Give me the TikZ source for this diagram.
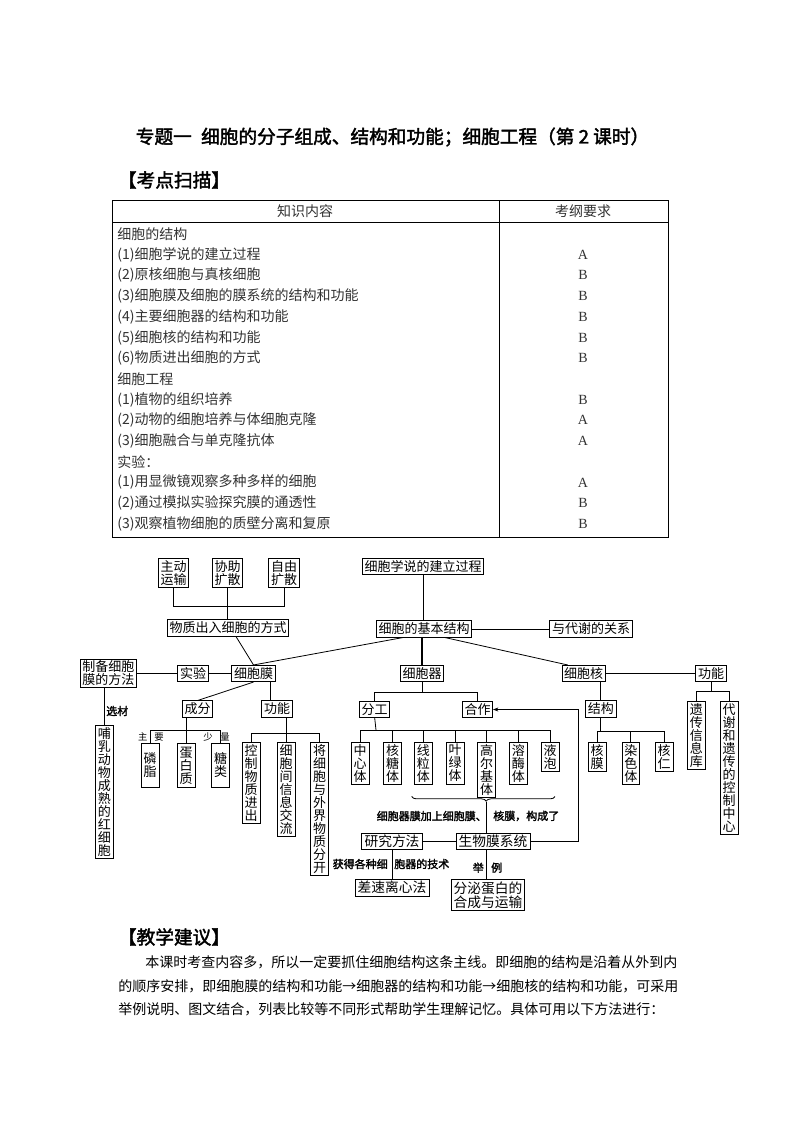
\documentclass[tikz,border=0pt]{standalone}
\usepackage{fontspec}
\setmainfont{Noto Sans CJK SC}[AutoFakeBold=2]
\newfontfamily\serif{Liberation Serif}
\usetikzlibrary{calc,decorations.pathreplacing,arrows.meta}

\tikzset{
  ln/.style={line width=.6pt},
  hb/.style={draw,line width=.6pt,inner xsep=1.6pt,inner ysep=1.1pt,text height=.85em,text depth=.15em,
    font=\fontsize{9.75}{9.75}\selectfont},
  hbl/.style={hb,inner xsep=2pt,font=\fontsize{10.3}{10.3}\selectfont},
  hbb/.style={draw,line width=.6pt,inner xsep=1.6pt,inner ysep=1.4pt,align=center,
    font=\fontsize{9.75}{9.75}\selectfont},
  vb/.style={draw,line width=.6pt,anchor=north,inner xsep=1.8pt,inner ysep=1.6pt,text width=9.75pt,
    align=center,font=\fontsize{9.75}{9.75}\selectfont},
  lb/.style={inner sep=0pt,font=\fontsize{8.25}{8.25}\bfseries\selectfont},
  sm/.style={inner sep=0pt,font=\fontsize{7}{7}\selectfont},
  tb/.style={inner sep=0pt,text=black!80,font=\fontsize{10.5}{10.5}\selectfont},
  hd/.style={inner sep=0pt,font=\fontsize{14}{14}\bfseries\selectfont},
  pr/.style={inner sep=0pt,anchor=west,font=\fontsize{10.5}{10.5}\selectfont},
}

\begin{document}
\begin{tikzpicture}[x=0.75pt,y=-0.75pt]
\fill[white] (0,0) rectangle (793,1122);
\useasboundingbox (0,0) rectangle (793,1122);

% title and table
\node[hd] (title) at (392.5,137) {专题一\hspace{.5em}细胞的分子组成、结构和功能；细胞工程（第 2 课时）};
\node[hd] (kdsm) at (174,180) {【考点扫描】};
\draw[ln] (112,200) rectangle (668,537);
\draw[ln] (499,200) -- (499,537) (112,222) -- (668,222);
\node[tb] at (305,211) {知识内容};
\node[tb] at (583,211) {考纲要求};
\foreach \t/\g [count=\i from 0] in {{细胞的结构}/{},{(1)细胞学说的建立过程}/A,{(2)原核细胞与真核细胞}/B,
  {(3)细胞膜及细胞的膜系统的结构和功能}/B,{(4)主要细胞器的结构和功能}/B,{(5)细胞核的结构和功能}/B,
  {(6)物质进出细胞的方式}/B,{细胞工程}/{},{(1)植物的组织培养}/B,{(2)动物的细胞培养与体细胞克隆}/A,
  {(3)细胞融合与单克隆抗体}/A,{实验：}/{},{(1)用显微镜观察多种多样的细胞}/A,
  {(2)通过模拟实验探究膜的通透性}/B,{(3)观察植物细胞的质壁分离和复原}/B}
{
  \node[tb,anchor=west] at (117,234+20.7*\i) {\t};
  \node[tb] at (583,234+20.7*\i) {\serif\g};
}

% concept map
\node[hbb] (zd) at (173.5,573) {主动\\运输};
\node[hbb] (xz) at (227.5,573) {协助\\扩散};
\node[hbb] (zy) at (284,573) {自由\\扩散};
\node[hb] (fs) at (228,628) {物质出入细胞的方式};
\node[hb] (xs) at (423,566.7) {细胞学说的建立过程};
\node[hb] (jb) at (424,629) {细胞的基本结构};
\node[hb] (dx) at (591,629) {与代谢的关系};
\node[hbb] (zb) at (108.4,673.5) {制备细胞\\膜的方法};
\node[hb] (sy) at (193,673.5) {实验};
\node[hb] (xbm) at (253.5,673.5) {细胞膜};
\node[hb] (xbq) at (422,673.5) {细胞器};
\node[hb] (xbh) at (583.7,673.5) {细胞核};
\node[hb] (hgn) at (711,673.5) {功能};
\node[hb] (cf) at (197.7,709) {成分};
\node[hb] (gn) at (277,709) {功能};
\node[hb] (fg) at (374.7,709.5) {分工};
\node[hb] (hz) at (477.5,709.5) {合作};
\node[hb] (jg) at (600.8,709) {结构};
\node[hbl] (yj) at (392,841.7) {研究方法};
\node[hbl] (sw) at (493,841.7) {生物膜系统};
\node[hbl] (cs) at (392,888) {差速离心法};
\node[hbb,font=\fontsize{10.3}{10.3}\selectfont] (fm) at (488,895) {分泌蛋白的\\合成与运输};

\node[vb] (br) at (104.4,725) {哺\\乳\\动\\物\\成\\熟\\的\\红\\细\\胞};
\foreach \n/\x/\t in {lz/150/磷\\脂,db/186/蛋\\白\\质,tl/220.5/糖\\类}
  \node[vb,minimum height=33pt] (\n) at (\x,743) {\t};
\foreach \n/\x/\t in {kz/251.2/控\\制\\物\\质\\进\\出,xx/286/细\\胞\\间\\信\\息\\交\\流,
  fk/319.5/将\\细\\胞\\与\\外\\界\\物\\质\\分\\开}
  \node[vb] (\n) at (\x,742) {\t};
\foreach \n/\x/\t in {zx/360/中\\心\\体,ht/392.5/核\\糖\\体,xl/423.3/线\\粒\\体,yl/455/叶\\绿\\体,
  ge/486.7/高\\尔\\基\\体,rm/518.3/溶\\酶\\体,yp/550/液\\泡,hm/597/核\\膜,rs/630.8/染\\色\\体,hr/664/核\\仁}
  \node[vb] (\n) at (\x,741.7) {\t};
\node[vb] (yc) at (696.4,701) {遗\\传\\信\\息\\库};
\node[vb] (dxzx) at (729.2,701) {代\\谢\\和\\遗\\传\\的\\控\\制\\中\\心};

\coordinate (fsb) at (228,606);
\coordinate (cfb) at (186,730);
\coordinate (gnb) at (286,733);
\coordinate (qb) at (422,692.7);
\coordinate (fgb) at (376,730);
\coordinate (jgb) at (600.8,731.7);
\coordinate (hgb) at (711,691.7);
\coordinate (bt) at (486.7,801.5);
\coordinate (ar) at (578.3,709.5);

\draw[ln] (zd.south) |- (fsb) -| (zy.south);
\draw[ln] (xz.south) -- (xz.south |- fs.north);
\draw[ln] ($(fs.south)+(8,0)$) -- (xbm.north);
\draw[ln] ($(jb.south)+(-21,0)$) -- (xbm.north);
\draw[ln] (xs.south) -- (xs.south |- jb.north);
\draw[ln] (jb) -- (dx);
\draw[line width=1pt] (xbq.north) -- (xbq.north |- jb.south);
\draw[ln] ($(jb.south)+(21,0)$) -- ($(xbh.north)+(-16,0)$);
\draw[ln] (zb) -- (sy) -- (xbm);
\draw[ln] (br.north) -- (br.north |- zb.south);
\node[lb,anchor=west] at (106,711) {选材};
\draw[ln] (xbm.south) -- (cf.north);
\draw[ln] (gn.north) ++(-7,0) -- ++(0,-19);

\draw[ln] (cf.south -| db.north) -- (db.north);
\draw[ln] (lz.north) |- (cfb) -| (tl.north);
\foreach \t/\x in {主/142.7,要/159,少/208,量/225} \node[sm] at (\x,737) {\t};
\draw[ln] (gn.south -| xx.north) -- (xx.north);
\draw[ln] (kz.north) |- (gnb) -| (fk.north);

\draw[ln] (xbq.south) -- (qb);
\draw[ln] (fg.north) |- (qb) -| (hz.north);
\draw[ln] (fg.south) -- (fgb);
\draw[ln] (zx.north) |- (fgb) -| (yp.north);
\foreach \n in {ht,xl,yl,ge,rm} \draw[ln] (\n.north) -- (\n.north |- fgb);

\draw[ln,decorate,decoration={brace,mirror,amplitude=3.5pt,aspect=.52}] (411.7,796.5) -- (555,796.5);
\draw[ln] (bt) -- (bt |- sw.north);
\draw[ln] (sw.south -| bt) -- (fm.north -| bt);
\node[lb,anchor=east] at (487,816) {细胞器膜加上细胞膜、};
\node[lb,anchor=west] at (493,816) {核膜，构成了};
\draw[ln] (yj) -- (sw);
\draw[ln] (yj.south) -- (cs.north);
\node[lb,anchor=east] at (388,864) {获得各种细};
\node[lb,anchor=west] at (394,864) {胞器的技术};
\node[lb] at (478.3,867.7) {举};
\node[lb] at (496.7,867.7) {例};
\draw[ln,-{Stealth[length=4pt,width=3pt]}] (sw.east) -| (ar) -- (hz.east);

\draw[ln] (xbh) -- (hgn);
\draw[ln] (jg.north) -- (jg.north |- xbh.south);
\draw[ln] (jg.south) -- (jgb);
\draw[ln] (hm.north) |- (jgb) -| (hr.north);
\draw[ln] (rs.north) -- (rs.north |- jgb);
\draw[ln] (hgn.south) -- (hgb);
\draw[ln] (yc.north) |- (hgb) -| (dxzx.north);

% teaching notes
\node[hd] (jxjy) at (174,937) {【教学建议】};
\node[pr] at (145,962) {本课时考查内容多，所以一定要抓住细胞结构这条主线。即细胞的结构是沿着从外到内};
\node[pr] at (118,986) {的顺序安排，即细胞膜的结构和功能→细胞器的结构和功能→细胞核的结构和功能，可采用};
\node[pr] at (118,1009) {举例说明、图文结合，列表比较等不同形式帮助学生理解记忆。具体可用以下方法进行：};
\end{tikzpicture}
\end{document}
